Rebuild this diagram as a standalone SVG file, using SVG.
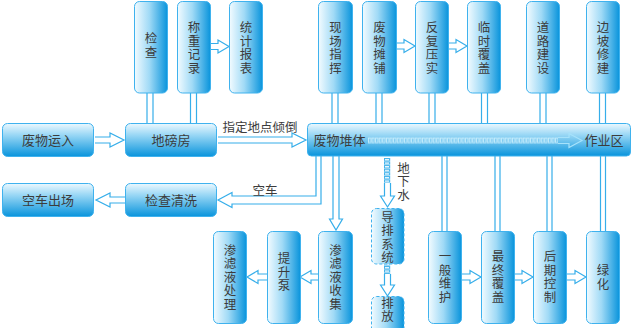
<svg xmlns="http://www.w3.org/2000/svg" width="638" height="328" viewBox="0 0 638 328">
<defs>
<linearGradient id="gH" x1="0" y1="0" x2="0" y2="1">
<stop offset="0" stop-color="#ecf8fe"/><stop offset="0.35" stop-color="#99d7f5"/><stop offset="1" stop-color="#0994dc"/>
</linearGradient>
<linearGradient id="gV" x1="0" y1="0" x2="1" y2="0">
<stop offset="0" stop-color="#f2fbff"/><stop offset="0.45" stop-color="#a0daf6"/><stop offset="1" stop-color="#0994dc"/>
</linearGradient>
<pattern id="ladH" x="368" y="137.5" width="3.6" height="6" patternUnits="userSpaceOnUse">
<rect x="0.5" y="0.5" width="2.2" height="4.6" fill="none" stroke="#c4ecfc" stroke-width="1"/>
</pattern>
<pattern id="ladV" x="384" y="158" width="6" height="3.6" patternUnits="userSpaceOnUse">
<rect x="0.5" y="0.5" width="5" height="2.2" fill="none" stroke="#36aeea" stroke-width="0.9"/>
</pattern>
</defs>
<style>
.bx{stroke:#3fb2ee;stroke-width:1}
.h{fill:url(#gH)}
.v{fill:url(#gV)}
.dash{stroke-dasharray:3 2}
.t{font-family:"Noto Sans CJK SC","Noto Sans",sans-serif;font-size:13px;fill:#3c3c3c;text-anchor:middle}
.vt{font-family:"Noto Sans CJK SC","Noto Sans",sans-serif;font-size:12.5px;fill:#3c3c3c;text-anchor:middle}
.lbl{font-family:"Noto Sans CJK SC","Noto Sans",sans-serif;font-size:12.5px;fill:#3c3c3c;text-anchor:middle}
.ln{fill:none;stroke:#36aeea;stroke-width:1.2}
.lnb{fill:none;stroke:#a6e2fb;stroke-width:1.2}
</style>
<rect width="638" height="328" fill="#ffffff"/>

<g id="connectors">
<path class="ln" d="M95 137H110V133L124 140L110 147V143H95"/>
<path class="ln" d="M218 137H292V133L306 140L292 147V143H218"/>
<path class="ln" d="M211 43.5H218V40L229 46.5L218 53V49.5H211"/>
<path class="ln" d="M397 43H404V39.5L415 46L404 52.5V49H397"/>
<path class="ln" d="M449 43H456V39.5L467 46L456 52.5V49H449"/>
<path class="ln" d="M147 93V123M153 93V123M190.5 93V123M196.5 93V123M332 93V123M338 93V123M376 93V123M382 93V123M429 93V123M435 93V123M481.5 93V123M487.5 93V123M540 93V123M546 93V123M599.5 93V123M605.5 93V123"/>
<path class="ln" d="M442 156V231M447 156V231M495 156V231M500 156V231M547 156V231M552 156V231M600.5 156V231M605.5 156V231"/>
<path class="ln" d="M333 156V219H329.5L336 230L342.5 219H339V156"/>
<path class="ln" d="M316 156V196H232V192.5L218 200L232 207.5V204H321V156"/>
<path class="ln" d="M125 197H110V193L96 200L110 207V203H125"/>
<path class="ln" d="M318 274H311V270.5L300 277L311 283.5V280H318"/>
<path class="ln" d="M267 274H258V270.5L247 277L258 283.5V280H267"/>
<path class="ln" d="M462 274H470V270.5L481 277L470 283.5V280H462"/>
<path class="ln" d="M514 274H522V270.5L533 277L522 283.5V280H514"/>
<path class="ln" d="M567 274H575V270.5L586 277L575 283.5V280H567"/>
<rect x="384" y="158" width="6.2" height="25" fill="url(#ladV)"/>
<path class="ln" d="M384.5 183V196H380.5L387.5 207L394.5 196H390.5V183"/>
<rect x="384" y="264.5" width="6.2" height="9.5" fill="url(#ladV)"/>
<path class="ln" d="M384.5 274V285H380.5L387.5 296L394.5 285H390.5V274"/>
<text class="lbl" x="260" y="131.5">指定地点倾倒</text>
<text class="lbl" x="265" y="194.5">空车</text>
<text class="lbl"><tspan x="403.5" y="172.5">地</tspan><tspan x="403.5" y="186">下</tspan><tspan x="403.5" y="199.5">水</tspan></text>
</g>

<g id="n-feiwuyunru"><rect class="bx h" x="2.5" y="123.5" width="91" height="33" rx="5"/><text class="t" x="48" y="144.5">废物运入</text></g>
<g id="n-dibangfang"><rect class="bx h" x="125.5" y="123.5" width="91" height="33" rx="5"/><text class="t" x="171" y="144.5">地磅房</text></g>
<g id="n-kongchechuchang"><rect class="bx h" x="2.5" y="183.5" width="91" height="33" rx="5"/><text class="t" x="48" y="204.5">空车出场</text></g>
<g id="n-jianchaqingxi"><rect class="bx h" x="125.5" y="183.5" width="91" height="33" rx="5"/><text class="t" x="171" y="204.5">检查清洗</text></g>

<g id="n-feiwuduiti">
<rect class="bx h" x="307.5" y="123.5" width="323" height="32.5" rx="4"/>
<text class="t" x="339.5" y="145">废物堆体</text>
<rect x="368" y="137.5" width="190" height="6" fill="url(#ladH)"/>
<path class="lnb" d="M558 137.5H569V133.5L582 140.5L569 147.5V143.5H558"/>
<text class="t" x="604" y="145">作业区</text>
</g>

<g id="n-jiancha"><rect class="bx v" x="134.5" y="1.5" width="33" height="91.5" rx="5"/><text class="vt"><tspan x="151" y="43">检</tspan><tspan x="151" y="56.5">查</tspan></text></g>
<g id="n-chengzhongjilu"><rect class="bx v" x="177.5" y="1.5" width="33" height="91.5" rx="5"/><text class="vt"><tspan x="194" y="32">称</tspan><tspan x="194" y="45.5">重</tspan><tspan x="194" y="59">记</tspan><tspan x="194" y="72.5">录</tspan></text></g>
<g id="n-tongjibaobiao"><rect class="bx v" x="229.5" y="1.5" width="33" height="91.5" rx="5"/><text class="vt"><tspan x="246" y="32">统</tspan><tspan x="246" y="45.5">计</tspan><tspan x="246" y="59">报</tspan><tspan x="246" y="72.5">表</tspan></text></g>
<g id="n-xianchangzhihui"><rect class="bx v" x="318.5" y="1.5" width="34" height="91.5" rx="5"/><text class="vt"><tspan x="335.5" y="32">现</tspan><tspan x="335.5" y="45.5">场</tspan><tspan x="335.5" y="59">指</tspan><tspan x="335.5" y="72.5">挥</tspan></text></g>
<g id="n-feiwutanpu"><rect class="bx v" x="362.5" y="1.5" width="34" height="91.5" rx="5"/><text class="vt"><tspan x="379.5" y="32">废</tspan><tspan x="379.5" y="45.5">物</tspan><tspan x="379.5" y="59">摊</tspan><tspan x="379.5" y="72.5">铺</tspan></text></g>
<g id="n-fanfuyashi"><rect class="bx v" x="415.5" y="1.5" width="33" height="91.5" rx="5"/><text class="vt"><tspan x="432" y="32">反</tspan><tspan x="432" y="45.5">复</tspan><tspan x="432" y="59">压</tspan><tspan x="432" y="72.5">实</tspan></text></g>
<g id="n-linshifugai"><rect class="bx v" x="467.5" y="1.5" width="33" height="91.5" rx="5"/><text class="vt"><tspan x="484" y="32">临</tspan><tspan x="484" y="45.5">时</tspan><tspan x="484" y="59">覆</tspan><tspan x="484" y="72.5">盖</tspan></text></g>
<g id="n-daolujianshe"><rect class="bx v" x="526.5" y="1.5" width="33" height="91.5" rx="5"/><text class="vt"><tspan x="543" y="32">道</tspan><tspan x="543" y="45.5">路</tspan><tspan x="543" y="59">建</tspan><tspan x="543" y="72.5">设</tspan></text></g>
<g id="n-bianpoxiujian"><rect class="bx v" x="586.5" y="1.5" width="33" height="91.5" rx="5"/><text class="vt"><tspan x="603" y="32">边</tspan><tspan x="603" y="45.5">坡</tspan><tspan x="603" y="59">修</tspan><tspan x="603" y="72.5">建</tspan></text></g>

<g id="n-shenlvyechuli"><rect class="bx v" x="213.5" y="231.5" width="33" height="92" rx="5"/><text class="vt"><tspan x="230" y="254.5">渗</tspan><tspan x="230" y="268">滤</tspan><tspan x="230" y="281.5">液</tspan><tspan x="230" y="295">处</tspan><tspan x="230" y="308.5">理</tspan></text></g>
<g id="n-tishengbeng"><rect class="bx v" x="267.5" y="231.5" width="33" height="92" rx="5"/><text class="vt"><tspan x="284" y="263">提</tspan><tspan x="284" y="276.5">升</tspan><tspan x="284" y="290">泵</tspan></text></g>
<g id="n-shenlvyeshouji"><rect class="bx v" x="318.5" y="231.5" width="34" height="92" rx="5"/><text class="vt"><tspan x="335.5" y="254.5">渗</tspan><tspan x="335.5" y="268">滤</tspan><tspan x="335.5" y="281.5">液</tspan><tspan x="335.5" y="295">收</tspan><tspan x="335.5" y="308.5">集</tspan></text></g>
<g id="n-daopaixitong"><rect class="bx v dash" x="371.5" y="208.5" width="32.5" height="55.5" rx="5"/><text class="vt"><tspan x="387.5" y="221.5">导</tspan><tspan x="387.5" y="235">排</tspan><tspan x="387.5" y="248.5">系</tspan><tspan x="387.5" y="262">统</tspan></text></g>
<g id="n-paifang"><rect class="bx v dash" x="371.5" y="296.5" width="32.5" height="40" rx="5"/><text class="vt"><tspan x="387.5" y="307.5">排</tspan><tspan x="387.5" y="321">放</tspan></text></g>
<g id="n-yibanweihu"><rect class="bx v" x="428.5" y="231.5" width="33" height="92" rx="5"/><text class="vt"><tspan x="445" y="261.3">一</tspan><tspan x="445" y="274.8">般</tspan><tspan x="445" y="288.3">维</tspan><tspan x="445" y="301.8">护</tspan></text></g>
<g id="n-zuizhongfugai"><rect class="bx v" x="481.5" y="231.5" width="33" height="92" rx="5"/><text class="vt"><tspan x="498" y="261.3">最</tspan><tspan x="498" y="274.8">终</tspan><tspan x="498" y="288.3">覆</tspan><tspan x="498" y="301.8">盖</tspan></text></g>
<g id="n-houqikongzhi"><rect class="bx v" x="533.5" y="231.5" width="33" height="92" rx="5"/><text class="vt"><tspan x="550" y="261.3">后</tspan><tspan x="550" y="274.8">期</tspan><tspan x="550" y="288.3">控</tspan><tspan x="550" y="301.8">制</tspan></text></g>
<g id="n-lvhua"><rect class="bx v" x="586.5" y="231.5" width="33" height="92" rx="5"/><text class="vt"><tspan x="603" y="275">绿</tspan><tspan x="603" y="288.5">化</tspan></text></g>
</svg>
